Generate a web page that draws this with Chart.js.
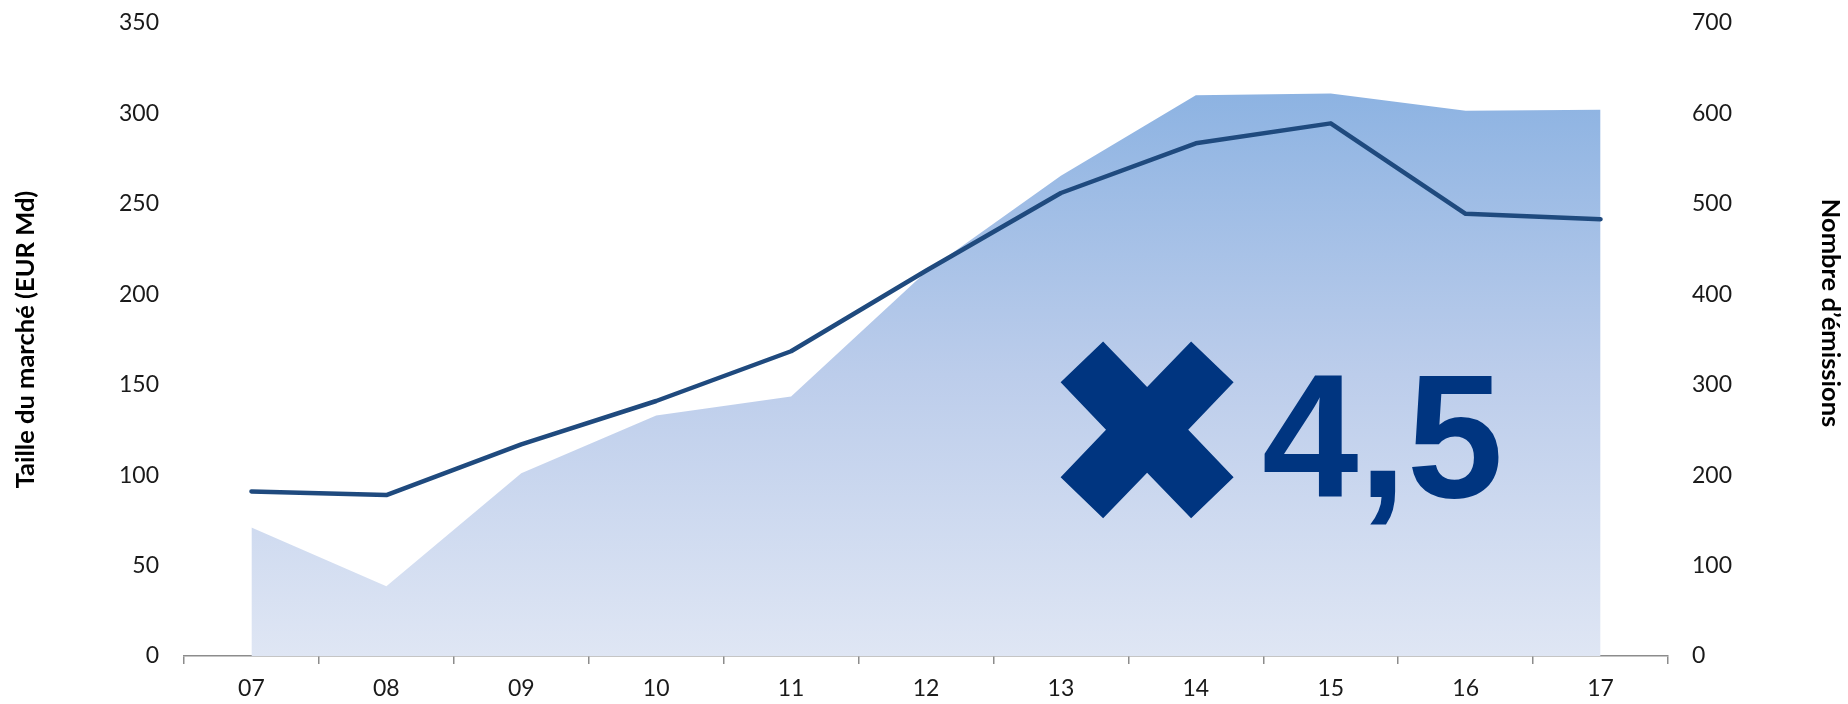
<!DOCTYPE html>
<html>
<head>
<meta charset="utf-8">
<script src="https://cdn.jsdelivr.net/npm/chart.js@4/dist/chart.umd.min.js"></script>
<style>
  html, body { margin: 0; padding: 0; background: #fff; }
  #wrap { width: 1848px; height: 704px; }
</style>
</head>
<body>
<div id="wrap"><canvas id="marketChart" width="1848" height="704"></canvas></div>
<script>
// years on the x axis
const years = ['07', '08', '09', '10', '11', '12', '13', '14', '15', '16', '17'];
// market size, EUR bn (left axis, line)
const marketSize = [91, 89, 117, 141, 168.5, 213, 256, 283.5, 294.5, 244.5, 241.5];
// number of issues (right axis, area)
const issueCount = [142, 77, 202, 266, 287, 425, 531, 620, 622, 603, 604];
// axis ranges
const leftMax = 350, leftStep = 50;
const rightMax = 700, rightStep = 100;
const growthLabel = '4,5';
const rightTitle = 'Nombre d’émissions';

Chart.defaults.font.family = 'Lato';
Chart.defaults.color = '#1a1a1a';

const tickFont = { size: 23 };
const titleFont = { size: 25.5, weight: 'bold' };

function areaGradient(context) {
  const chart = context.chart;
  const area = chart.chartArea;
  if (!area) return '#c6d4ee';
  const top = chart.scales.y1.getPixelForValue(Math.max(...issueCount));
  const g = chart.ctx.createLinearGradient(0, top, 0, area.bottom);
  g.addColorStop(0, '#8db3e2');
  g.addColorStop(0.5, '#bccdeb');
  g.addColorStop(1, '#dfe6f4');
  return g;
}

// y axes: fixed width, and no extra room above/below for the tick padding
function fitYAxis(scale) {
  scale.width = 176;
  scale.paddingTop = 0;
  scale.paddingBottom = 0;
}

// big "x 4,5" badge inside the plot
const growthBadge = {
  id: 'growthBadge',
  afterDatasetsDraw(chart) {
    const { ctx, chartArea: a } = chart;
    const cx = a.left + a.width * 0.649;
    const cy = a.top + a.height * 0.6427;
    const hw = 86.5, hh = 88.3;
    const pts = [
      [-hw, -47.5], [-44, -hh], [0, -42.8], [44, -hh], [hw, -47.5], [41.1, 0],
      [hw, 47.5], [44, hh], [0, 42.8], [-44, hh], [-hw, 47.5], [-41.1, 0]
    ];
    ctx.save();
    ctx.fillStyle = '#003580';
    ctx.beginPath();
    pts.forEach(([dx, dy], i) => {
      if (i === 0) ctx.moveTo(cx + dx, cy + dy);
      else ctx.lineTo(cx + dx, cy + dy);
    });
    ctx.closePath();
    ctx.fill();

    ctx.translate(cx + 115, cy + 66.7);
    ctx.scale(0.98, 1);
    ctx.font = 'bold 177px "Liberation Sans"';
    ctx.textBaseline = 'alphabetic';
    ctx.textAlign = 'left';
    ctx.fillText(growthLabel, 0, 0);
    ctx.restore();
  },
  // right axis title sits a bit above the axis middle
  afterDraw(chart) {
    const { ctx } = chart;
    const s = chart.scales.y1;
    ctx.save();
    ctx.translate(s.right - 14, 313);
    ctx.rotate(Math.PI / 2);
    ctx.font = 'bold 25.5px Lato';
    ctx.fillStyle = '#000';
    ctx.textAlign = 'center';
    ctx.textBaseline = 'middle';
    ctx.fillText(rightTitle, 0, 0);
    ctx.restore();
  }
};

new Chart(document.getElementById('marketChart'), {
  type: 'line',
  data: {
    labels: years,
    datasets: [
      {
        label: 'Taille du marché',
        data: marketSize,
        yAxisID: 'y',
        order: 0,
        borderColor: '#1f4a7e',
        borderWidth: 4.5,
        borderCapStyle: 'round',
        borderJoinStyle: 'round',
        pointRadius: 0,
        tension: 0,
        fill: false
      },
      {
        label: rightTitle,
        data: issueCount,
        yAxisID: 'y1',
        order: 1,
        backgroundColor: areaGradient,
        borderWidth: 0,
        pointRadius: 0,
        tension: 0,
        fill: 'origin'
      }
    ]
  },
  options: {
    responsive: false,
    animation: false,
    devicePixelRatio: 1,
    layout: { padding: { top: 23, left: 10, right: 4, bottom: 0 } },
    plugins: {
      legend: { display: false },
      tooltip: { enabled: false }
    },
    scales: {
      x: {
        offset: true,
        grid: {
          offset: true,
          drawOnChartArea: false,
          drawTicks: true,
          tickLength: 8,
          color: '#8c8c8c',
          lineWidth: 1.5
        },
        border: { display: true, color: '#8c8c8c', width: 1.5 },
        ticks: { font: tickFont, padding: 11, maxRotation: 0 },
        afterFit(scale) { scale.height = 48; }
      },
      y: {
        position: 'left',
        min: 0,
        max: leftMax,
        grid: { display: false, drawTicks: false },
        border: { display: false },
        ticks: { stepSize: leftStep, font: tickFont, padding: 25 },
        title: {
          display: true,
          text: 'Taille du marché (EUR Md)',
          font: titleFont,
          color: '#000',
          padding: { top: 0, bottom: 0 }
        },
        afterFit(scale) { fitYAxis(scale); scale.width = 174; }
      },
      y1: {
        position: 'right',
        min: 0,
        max: rightMax,
        grid: { display: false, drawTicks: false },
        border: { display: false },
        ticks: { stepSize: rightStep, font: tickFont, padding: 24 },
        afterFit: fitYAxis
      }
    }
  },
  plugins: [growthBadge]
});
</script>
</body>
</html>
